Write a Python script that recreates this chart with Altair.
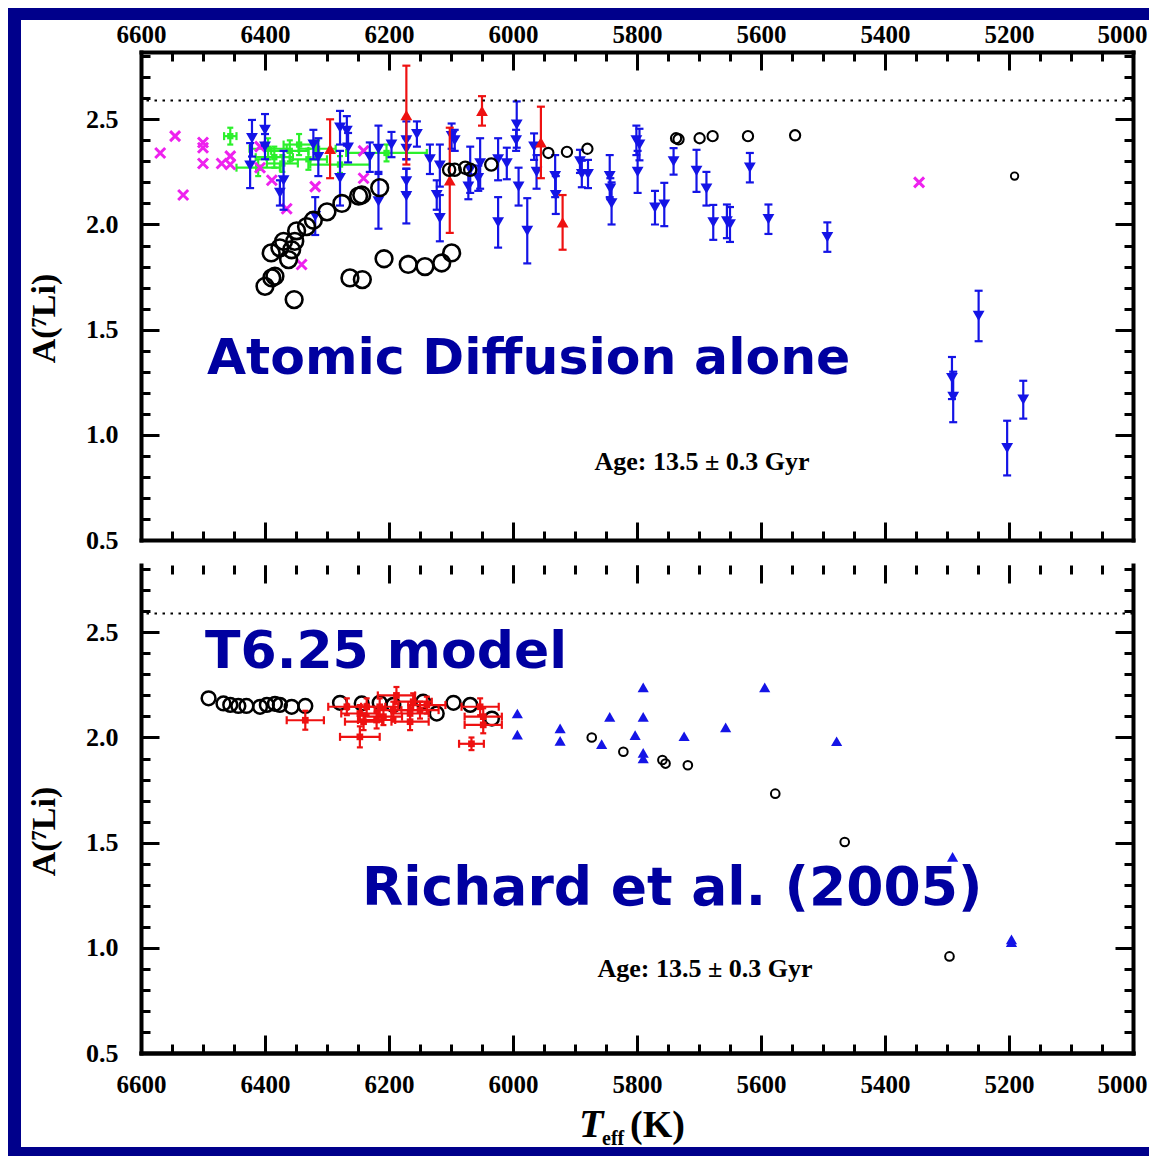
import altair as alt
import pandas as pd

# ---------------- axis tick values ----------------
TEFF_MAJOR = [6600, 6400, 6200, 6000, 5800, 5600, 5400, 5200, 5000]
TEFF_MINOR = list(range(5000, 6601, 50))
ALI_MAJOR = [0.5, 1.0, 1.5, 2.0, 2.5]
ALI_MINOR = [0.5, 0.6, 0.7, 0.8, 0.9, 1.0, 1.1, 1.2, 1.3, 1.4, 1.5, 1.6, 1.7,
             1.8, 1.9, 2.0, 2.1, 2.2, 2.3, 2.4, 2.5, 2.6, 2.7, 2.8]
PRIMORDIAL_LI = 2.59

# ---------------- top panel data (atomic diffusion alone) ----------------
top_blue_T = [6421, 6424, 6400, 6400, 6370, 6376, 6322, 6314, 6319, 6279, 6268, 6266, 6279, 6231,
              6217, 6217, 6196, 6172, 6172, 6172, 6172, 6155, 6134, 6118, 6123, 6118, 6099, 6094,
              6069, 6072, 6053, 6056, 6024, 6010, 6024, 5994, 5995, 5991, 5977, 5966, 5962, 5932,
              5931, 5892, 5889, 5879, 5844, 5843, 5841, 5801, 5796, 5799, 5771, 5756, 5741, 5704,
              5688, 5677, 5655, 5650, 5618, 5588, 5493, 5249, 5292, 5290, 5203, 5177]
top_blue_A = [2.41, 2.28, 2.45, 2.37, 2.21, 2.15, 2.38, 2.32, 2.04, 2.46, 2.445, 2.365, 2.22, 2.32,
              2.36, 2.11, 2.38, 2.40, 2.36, 2.205, 2.135, 2.43, 2.31, 2.28, 2.14, 2.03, 2.42, 2.40,
              2.26, 2.18, 2.29, 2.22, 2.31, 2.29, 2.01, 2.475, 2.40, 2.18, 1.97, 2.37, 2.25, 2.23,
              2.14, 2.30, 2.24, 2.24, 2.23, 2.17, 2.10, 2.40, 2.38, 2.25, 2.08, 2.095, 2.30, 2.255,
              2.17, 2.01, 2.015, 2.00, 2.27, 2.025, 1.94, 1.565, 1.27, 1.18, 0.937, 1.167]
top_blue_E = [0.087, 0.107, 0.075, 0.06, 0.14, 0.06, 0.07, 0.09, 0.09, 0.08, 0.07, 0.07, 0.13, 0.07,
              0.11, 0.13, 0.06, 0.09, 0.05, 0.06, 0.13, 0.06, 0.07, 0.10, 0.07, 0.11, 0.06, 0.05,
              0.11, 0.06, 0.12, 0.06, 0.10, 0.075, 0.12, 0.11, 0.05, 0.09, 0.155, 0.063, 0.08, 0.10,
              0.09, 0.055, 0.063, 0.067, 0.10, 0.05, 0.10, 0.07, 0.075, 0.10, 0.08, 0.103, 0.063, 0.10,
              0.08, 0.083, 0.08, 0.083, 0.07, 0.07, 0.07, 0.12, 0.10, 0.12, 0.13, 0.09]

top_red_T = [6172, 6295, 6102, 6050, 5955, 5920]
top_red_A = [2.52, 2.36, 2.21, 2.54, 2.39, 2.01]
top_red_E = [0.235, 0.14, 0.25, 0.07, 0.17, 0.13]

top_mag_T = [6569, 6545, 6532, 6500, 6500, 6500, 6470, 6456, 6456, 6408, 6408, 6389, 6365, 6341,
             6319, 6241, 6241, 5345]
top_mag_A = [2.34, 2.42, 2.14, 2.39, 2.365, 2.29, 2.29, 2.325, 2.285, 2.37, 2.27, 2.21, 2.075, 1.81,
             2.18, 2.35, 2.22, 2.20]

top_green_T = [6456, 6411, 6395, 6385, 6372, 6360, 6345, 6330, 6316, 6279, 6204]
top_green_A = [2.42, 2.27, 2.36, 2.32, 2.29, 2.35, 2.38, 2.31, 2.36, 2.285, 2.34]
top_green_XE = [10, 35, 30, 30, 25, 30, 25, 30, 30, 48, 65]
top_green_E = [0.04, 0.04, 0.05, 0.05, 0.04, 0.05, 0.05, 0.05, 0.04, 0.04, 0.04]

top_circ_big_T = [6400, 6389, 6384, 6390, 6376, 6370, 6362, 6357, 6352, 6349, 6333, 6322, 6300,
                  6276, 6249, 6244, 6215, 6353, 6263, 6243, 6208, 6169, 6142, 6115, 6099]
top_circ_big_A = [1.706, 1.746, 1.754, 1.865, 1.889, 1.92, 1.833, 1.88, 1.92, 1.97, 1.99, 2.02, 2.06,
                  2.10, 2.135, 2.14, 2.175, 1.643, 1.746, 1.738, 1.837, 1.81, 1.80, 1.817, 1.865]
top_circ_mid_T = [6103, 6094, 6077, 6069, 6035]
top_circ_mid_A = [2.26, 2.26, 2.27, 2.26, 2.285]
top_circ_small_T = [5943, 5913, 5880, 5737, 5733, 5699, 5678, 5621, 5545]
top_circ_small_A = [2.34, 2.345, 2.36, 2.41, 2.405, 2.41, 2.42, 2.42, 2.424]
top_circ_tiny_T = [5191]
top_circ_tiny_A = [2.23]

# ---------------- bottom panel data (T6.25 model) ----------------
bot_circ_big_T = [6491, 6467, 6456, 6443, 6430, 6408, 6397, 6384, 6376, 6357, 6335, 6279, 6244,
                  6215, 6193, 6145, 6123, 6096, 6069, 6034]
bot_circ_big_A = [2.186, 2.162, 2.155, 2.15, 2.15, 2.146, 2.155, 2.16, 2.155, 2.146, 2.15, 2.165,
                  2.162, 2.165, 2.155, 2.17, 2.114, 2.165, 2.155, 2.09]
bot_circ_small_T = [5873, 5822, 5759, 5754, 5718, 5577, 5465, 5296]
bot_circ_small_A = [2.0, 1.932, 1.893, 1.876, 1.868, 1.733, 1.503, 0.959]
bot_blue_T = [5993, 5993, 5924, 5924, 5857, 5844, 5803, 5790, 5790, 5790, 5790, 5724, 5657, 5594,
              5478, 5291, 5196, 5196]
bot_blue_A = [2.114, 2.014, 2.043, 1.984, 1.968, 2.098, 2.011, 2.238, 2.098, 1.927, 1.90, 2.006,
              2.048, 2.238, 1.982, 1.432, 1.027, 1.04]
bot_red_T = [6335, 6247, 6268, 6247, 6241, 6236, 6215, 6209, 6188, 6193, 6166, 6161, 6150, 6139,
             6166, 6220, 6067, 6053, 6048, 6048]
bot_red_A = [2.082, 2.003, 2.146, 2.114, 2.075, 2.146, 2.146, 2.099, 2.20, 2.13, 2.114, 2.17, 2.13,
             2.154, 2.075, 2.083, 1.97, 2.146, 2.099, 2.06]
bot_red_XE = [30, 32, 30, 30, 30, 30, 30, 30, 30, 30, 30, 30, 30, 30, 30, 30, 20, 30, 30, 30]
bot_red_E = [0.045, 0.05, 0.04, 0.04, 0.04, 0.04, 0.04, 0.04, 0.04, 0.04, 0.04, 0.04, 0.04, 0.04,
             0.04, 0.04, 0.03, 0.04, 0.04, 0.04]

# ---------------- styling ----------------
SERIF = "Liberation Serif"
ANNOT_FONT = "DejaVu Sans"
BORDER = "#00008b"
ANNOT = "#0000a0"
BLUE = "#1414e6"
RED = "#ee1111"
GREEN = "#2bf02b"
MAGENTA = "#ee22ee"
W, H = 992, 488


def xsc():
    return alt.Scale(domain=[5000, 6600], reverse=True, nice=False, zero=False)


def ysc():
    return alt.Scale(domain=[0.5, 2.82], nice=False, zero=False)


def X(f, axis=None):
    return alt.X(f, type="quantitative", scale=xsc(), axis=axis)


def Y(f, axis=None):
    return alt.Y(f, type="quantitative", scale=ysc(), axis=axis)


ONE = pd.DataFrame({"k": [0]})


def df_of(T, A, E=None, XE=None):
    d = {"T": T, "A": A}
    if E is not None:
        d["E"] = E
    if XE is not None:
        d["XE"] = XE
    return pd.DataFrame(d)


def yerr_layers(df, color, cap=8, width=2.2):
    base = alt.Chart(df).transform_calculate(lo="datum.A - datum.E", hi="datum.A + datum.E")
    rule = base.mark_rule(color=color, strokeWidth=width).encode(x=X("T"), y=Y("lo"), y2=alt.Y2("hi"))
    c1 = base.mark_tick(color=color, orient="horizontal", size=cap, thickness=width, opacity=1).encode(
        x=X("T"), y=Y("lo"))
    c2 = base.mark_tick(color=color, orient="horizontal", size=cap, thickness=width, opacity=1).encode(
        x=X("T"), y=Y("hi"))
    return [rule, c1, c2]


def xerr_layers(df, color, cap=8, width=2.2):
    base = alt.Chart(df).transform_calculate(xlo="datum.T - datum.XE", xhi="datum.T + datum.XE")
    rule = base.mark_rule(color=color, strokeWidth=width).encode(x=X("xlo"), x2=alt.X2("xhi"), y=Y("A"))
    c1 = base.mark_tick(color=color, orient="vertical", size=cap, thickness=width, opacity=1).encode(
        x=X("xlo"), y=Y("A"))
    c2 = base.mark_tick(color=color, orient="vertical", size=cap, thickness=width, opacity=1).encode(
        x=X("xhi"), y=Y("A"))
    return [rule, c1, c2]


def points(df, shape, color, size, filled=True, sw=2.0):
    return alt.Chart(df).mark_point(shape=shape, filled=filled, color=color, size=size,
                                    strokeWidth=sw, opacity=1).encode(x=X("T"), y=Y("A"))


def text(t, x, y, font, size, color, align="left", style="normal"):
    return alt.Chart(ONE).mark_text(text=t, font=font, fontSize=size, fontWeight="bold",
                                    fontStyle=style, color=color, align=align,
                                    baseline="alphabetic").encode(x=alt.value(x), y=alt.value(y))


def rect(color, x1, x2, y1, y2):
    return alt.Chart(ONE).mark_rect(color=color).encode(
        x=alt.value(x1), x2=alt.value(x2), y=alt.value(y1), y2=alt.value(y2))


def dotted():
    return alt.Chart(pd.DataFrame({"A": [PRIMORDIAL_LI]})).mark_rule(
        color="black", strokeWidth=2, strokeDash=[2.5, 5.5]).encode(y=Y("A"))


def tick_axis(orient, values, size, offset, domain=False):
    kw = dict(orient=orient, values=values, ticks=True, tickSize=size, tickWidth=3,
              tickColor="black", labels=False, domain=domain, grid=False, title=None,
              offset=offset, zindex=1)
    if domain:
        kw.update(domainWidth=4, domainColor="black", domainCap="square")
    return alt.Axis(**kw)


def axis_layers(df, top):
    lbl_x = alt.Axis(orient="top" if top else "bottom", values=TEFF_MAJOR, format="d", ticks=False,
                     domain=True, domainWidth=4, domainColor="black", domainCap="square",
                     labelFont=SERIF, labelFontWeight="bold", labelFontSize=25, labelColor="black",
                     labelPadding=5 if top else 19, labelFlush=False, labelOverlap=False,
                     labelOffset=alt.condition("datum.value == 5000", alt.value(-11), alt.value(0)),
                     grid=False, title=None, zindex=1)
    lbl_y = alt.Axis(orient="left", values=ALI_MAJOR, format=".1f", ticks=False, domain=True,
                     domainWidth=4, domainColor="black", domainCap="square",
                     labelFont=SERIF, labelFontWeight="bold", labelFontSize=26, labelColor="black",
                     labelPadding=23, labelFlush=False, grid=False,
                     title="A(\u2077Li)", titleFont=SERIF, titleFontWeight="bold", titleFontSize=34,
                     titleColor="black", titlePadding=24, titleY=H / 2 + 22, zindex=1)
    pairs = [
        (lbl_x, lbl_y),
        (tick_axis("bottom", TEFF_MAJOR, 18, -H), tick_axis("right", ALI_MAJOR, 18, -W)),
        (tick_axis("bottom", TEFF_MINOR, 9, -H), tick_axis("right", ALI_MINOR, 9, -W)),
        (tick_axis("top", TEFF_MAJOR, 18, -H, True), tick_axis("left", ALI_MAJOR, 18, -W, True)),
        (tick_axis("top", TEFF_MINOR, 9, -H), tick_axis("left", ALI_MINOR, 9, -W)),
    ]
    return [alt.Chart(df).mark_point(opacity=0).encode(x=X("T", ax), y=Y("A", ay)) for ax, ay in pairs]


# ---------------- top panel ----------------
d_tb = df_of(top_blue_T, top_blue_A, top_blue_E)
d_tr = df_of(top_red_T, top_red_A, top_red_E)
d_tg = df_of(top_green_T, top_green_A, top_green_E, top_green_XE)

# page decoration (pixel offsets from the top panel's corner): white page area and a navy
# frame on the left, top and bottom; it runs past the right edge, where the negative
# right padding crops the canvas.
RIGHT = 1080
BOTTOM_WHITE = 1095
BOTTOM_EDGE = 1104
frame_layers = [
    rect("white", -133, RIGHT, -44, BOTTOM_EDGE),
    rect(BORDER, -133, -120, -44, BOTTOM_EDGE),            # left band
    rect(BORDER, -133, RIGHT, -44, -32),                   # top band
    rect(BORDER, -133, RIGHT, BOTTOM_WHITE, BOTTOM_EDGE),  # bottom band
]

top_layers = list(frame_layers)
top_layers += xerr_layers(d_tg, GREEN) + yerr_layers(d_tg, GREEN, cap=6)
top_layers.append(points(d_tg, "square", GREEN, 40))
top_layers.append(points(df_of(top_mag_T, top_mag_A), "M-1,-1L1,1M-1,1L1,-1", MAGENTA, 100,
                         filled=False, sw=3))
top_layers += yerr_layers(d_tb, BLUE)
top_layers.append(points(d_tb, "triangle-down", BLUE, 140))
top_layers += yerr_layers(d_tr, RED)
top_layers.append(points(d_tr, "triangle-up", RED, 140))
top_layers.append(points(df_of(top_circ_big_T, top_circ_big_A), "circle", "black", 280, False, 2.6))
top_layers.append(points(df_of(top_circ_mid_T, top_circ_mid_A), "circle", "black", 150, False, 2.3))
top_layers.append(points(df_of(top_circ_small_T, top_circ_small_A), "circle", "black", 105, False, 2.1))
top_layers.append(points(df_of(top_circ_tiny_T, top_circ_tiny_A), "circle", "black", 55, False, 1.9))
top_layers.append(dotted())
top_layers.append(text("Atomic Diffusion alone", 66, 322, ANNOT_FONT, 50.5, ANNOT))
top_layers.append(text("Age: 13.5 \u00b1 0.3 Gyr", 561, 418, SERIF, 26, "black", align="center"))
top_layers += axis_layers(d_tb, True)

top = alt.layer(*top_layers).properties(width=W, height=H).resolve_axis(x="independent", y="independent")

# ---------------- bottom panel ----------------
d_br = df_of(bot_red_T, bot_red_A, bot_red_E, bot_red_XE)
d_bb = df_of(bot_blue_T, bot_blue_A)

bot_layers = []
bot_layers.append(points(df_of(bot_circ_big_T, bot_circ_big_A), "circle", "black", 190, False, 2.5))
bot_layers += xerr_layers(d_br, RED) + yerr_layers(d_br, RED, cap=6)
bot_layers.append(points(d_br, "square", RED, 45))
bot_layers.append(points(d_bb, "triangle-up", BLUE, 125))
bot_layers.append(points(df_of(bot_circ_small_T, bot_circ_small_A), "circle", "black", 75, False, 2.0))
bot_layers.append(dotted())
bot_layers.append(text("T6.25 model", 64, 103, ANNOT_FONT, 52, ANNOT))
bot_layers.append(text("Richard et al. (2005)", 221, 340, ANNOT_FONT, 53.5, ANNOT))
bot_layers.append(text("Age: 13.5 \u00b1 0.3 Gyr", 564, 412, SERIF, 26, "black", align="center"))
bot_layers.append(text("T", 438, 572, SERIF, 40, "black", style="italic"))
bot_layers.append(text("eff", 461, 580, SERIF, 20, "black"))
bot_layers.append(text("(K)", 489, 572, SERIF, 38, "black"))
bot_layers += axis_layers(d_bb, False)

bottom = alt.layer(*bot_layers).properties(width=W, height=H).resolve_axis(x="independent", y="independent")

# canvas: 1141 px wide (the page's content width, so the page never rescales it)
PAD_RIGHT = 1141 - (RIGHT + 133)

chart = alt.vconcat(top, bottom, spacing=25, bounds="flush").properties(
    background="white", padding={"left": 0, "top": 0, "right": PAD_RIGHT, "bottom": 0}
).configure_view(strokeWidth=0)

chart.save("out.html", embed_options={"renderer": "svg", "actions": False})
